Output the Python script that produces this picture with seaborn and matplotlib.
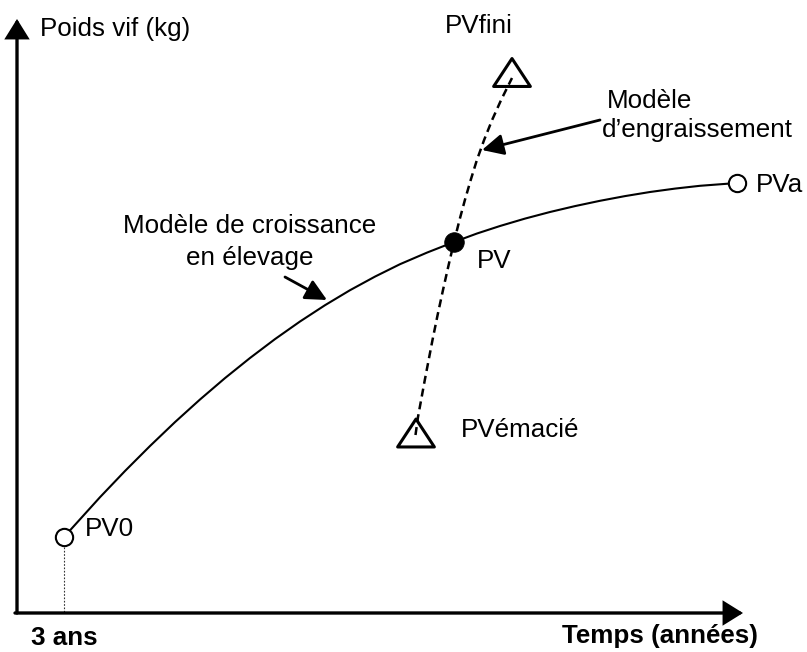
import numpy as np
import pandas as pd
import matplotlib
matplotlib.use("Agg")
import matplotlib.pyplot as plt
from matplotlib.path import Path
import seaborn as sns

# ---- data (in drawing units: x = time, y = weight position) ----
growth_x = [64, 100, 125, 150, 175, 200, 225, 250, 275, 300, 325, 350, 375, 400,
            427, 454, 477, 500, 525, 550, 575, 600, 625, 650, 675, 700, 737]
growth_y = [537, 497.2, 471.0, 446.0, 422.1, 399.5, 378.1, 358.0, 339.1, 321.5,
            305.2, 290.2, 276.6, 264.2, 252.6, 242, 233.5, 226.0, 218.6, 212.0,
            206.1, 200.8, 196.1, 192.0, 188.6, 185.8, 183]

fatten_x = [415.5, 418, 424.8, 432.5, 437.6, 443, 448.4, 454, 459.5, 464.9, 470.7,
            476.9, 484.1, 492.1, 501.1, 512]
fatten_y = [435, 417, 380, 340, 315, 290, 266, 242, 220, 200, 180, 160, 140, 120,
            100, 78]

pv0 = (64, 537)
pva = (737, 183)
pv = (454, 242)
pv_fini = (512, 72.5)
pv_emacie = (416, 433)

x_axis = [(15, 613), (743, 613)]
y_axis = [(17, 613), (17, 19)]
pv0_drop = [(64, 547), (64, 612)]

labels = {
    "Poids vif (kg)": (40, 36),
    "PVfini": (445, 33),
    "PVa": (756, 192),
    "PV": (477, 268),
    "PVémacié": (461, 437),
    "PV0": (85, 536),
}
eng_lines = ["Modèle", "d’engraissement"]
eng_pos = [(607, 108), (602, 137)]
cro_lines = ["Modèle de croissance", "en élevage"]
cro_pos = [(250, 233), (250, 265)]
bold_labels = {"3 ans": (31, 645), "Temps (années)": (562, 643)}

eng_arrow = [(600, 120), (482, 150)]
cro_arrow = [(285, 277), (327, 300)]

# ---- style ----
sns.set_theme(style="white")
plt.rcParams["font.family"] = ["Liberation Sans", "DejaVu Sans"]
FS = 18.7

fig = plt.figure(figsize=(8.07, 6.52), dpi=100)
ax = fig.add_axes([0, 0, 1, 1])

growth = pd.DataFrame({"t": growth_x, "w": growth_y})
fatten = pd.DataFrame({"t": fatten_x, "w": fatten_y})

sns.lineplot(data=growth, x="t", y="w", ax=ax, color="black", lw=1.5,
             estimator=None, sort=False, zorder=2)
sns.lineplot(data=fatten, x="t", y="w", ax=ax, color="black", lw=1.8,
             linestyle=(0, (3.2, 2.0)), estimator=None, sort=False, zorder=2)

drop = pd.DataFrame({"t": [p[0] for p in pv0_drop], "w": [p[1] for p in pv0_drop]})
sns.lineplot(data=drop, x="t", y="w", ax=ax, color="#333333", lw=0.8,
             linestyle=(0, (1.5, 1.5)), estimator=None, sort=False, zorder=1)

# open circles
circ = pd.DataFrame({"t": [pv0[0], pva[0]], "w": [pv0[1], pva[1]]})
sns.scatterplot(data=circ, x="t", y="w", ax=ax, s=155, marker="o",
                facecolor="white", edgecolor="black", linewidth=1.5, zorder=4)
# filled PV
sns.scatterplot(x=[pv[0]], y=[pv[1]], ax=ax, s=200, marker="o",
                color="black", edgecolor="black", linewidth=0.5, zorder=4)
# open triangles (apex up)
tri = Path([(0, 0.76), (-1, -0.76), (1, -0.76), (0, 0.76)],
           [Path.MOVETO, Path.LINETO, Path.LINETO, Path.CLOSEPOLY])
trid = pd.DataFrame({"t": [pv_fini[0], pv_emacie[0]], "w": [pv_fini[1], pv_emacie[1]]})
sns.scatterplot(data=trid, x="t", y="w", ax=ax, s=700, marker=tri,
                facecolor="none", edgecolor="black", linewidth=2.2, zorder=4)

# axes arrows
for seg in (x_axis, y_axis):
    ax.annotate("", xy=seg[1], xytext=seg[0],
                arrowprops=dict(arrowstyle="-|>,head_length=0.45,head_width=0.28",
                                lw=2.4, color="black", mutation_scale=25,
                                shrinkA=0, shrinkB=0, joinstyle="miter"))

# annotation arrows
for seg in (eng_arrow, cro_arrow):
    ax.annotate("", xy=seg[1], xytext=seg[0],
                arrowprops=dict(arrowstyle="-|>,head_length=0.65,head_width=0.32",
                                lw=2.0, color="black", mutation_scale=20,
                                shrinkA=0, shrinkB=0))

# texts
for txt, (x, y) in labels.items():
    ax.text(x, y, txt, fontsize=FS, ha="left", va="baseline", color="black")
for txt, (x, y) in zip(eng_lines, eng_pos):
    ax.text(x, y, txt, fontsize=FS, ha="left", va="baseline", color="black")
for txt, (x, y) in zip(cro_lines, cro_pos):
    ax.text(x, y, txt, fontsize=FS, ha="center", va="baseline", color="black")
for txt, (x, y) in bold_labels.items():
    ax.text(x, y, txt, fontsize=FS, ha="left", va="baseline", color="black",
            fontweight="bold")

ax.set_xlim(0, 807)
ax.set_ylim(652, 0)
ax.set_axis_off()
if ax.get_legend() is not None:
    ax.get_legend().remove()

fig.savefig("out.png", dpi=100)
